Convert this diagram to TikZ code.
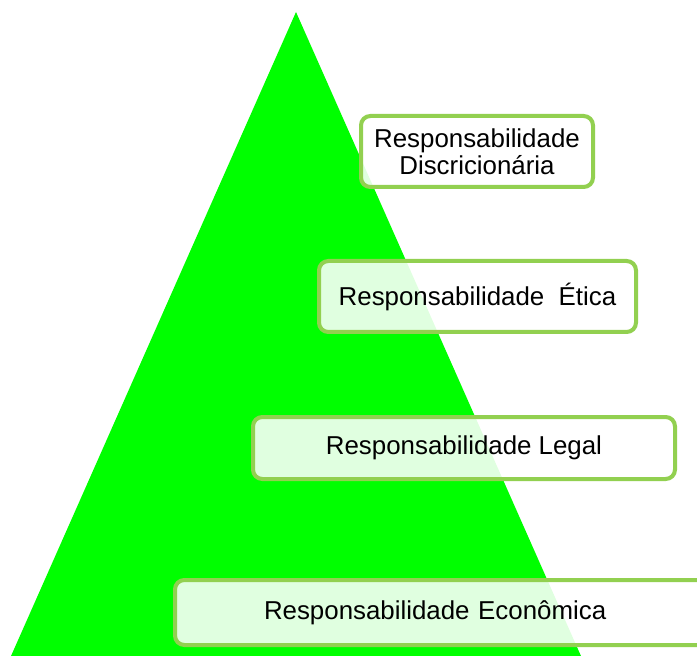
\documentclass[tikz,border=0pt]{standalone}
\usepackage{fontspec}
\setmainfont{Liberation Sans}
\definecolor{piramide}{RGB}{0,255,0}
\definecolor{bordacamada}{RGB}{146,208,80}
\tikzset{
  camada/.style={draw=bordacamada, line width=3pt, rounded corners=7pt,
    fill=white, fill opacity=.88, text opacity=1, align=center,
    font=\fontsize{19.4}{20.3}\selectfont},
}
\begin{document}
\begin{tikzpicture}[x=0.75pt,y=-0.75pt]
      \useasboundingbox (0,0) rectangle (697,656);
      \fill[color=piramide] (296,12) -- (6.6,666) -- (585.4,666) -- cycle;
      \node[camada,minimum width=174pt,minimum height=53.25pt] (discricionaria) at (477,151.5)
        {Responsabilidade\\Discricionária};
      \node[camada,minimum width=237.75pt,minimum height=53.25pt] (etica) at (477.5,296.5)
        {Responsabilidade\ \ Ética};
      \node[camada,minimum width=316.5pt,minimum height=46.5pt] (legal) at (464,448)
        {Responsabilidade Legal};
      \node[camada,anchor=west,align=left,minimum height=48.75pt,
        inner xsep=66.75pt,text width=276.75pt] (economica) at (173,612.5)
        {Responsabilidade Econômica};
    \end{tikzpicture}
\end{document}
